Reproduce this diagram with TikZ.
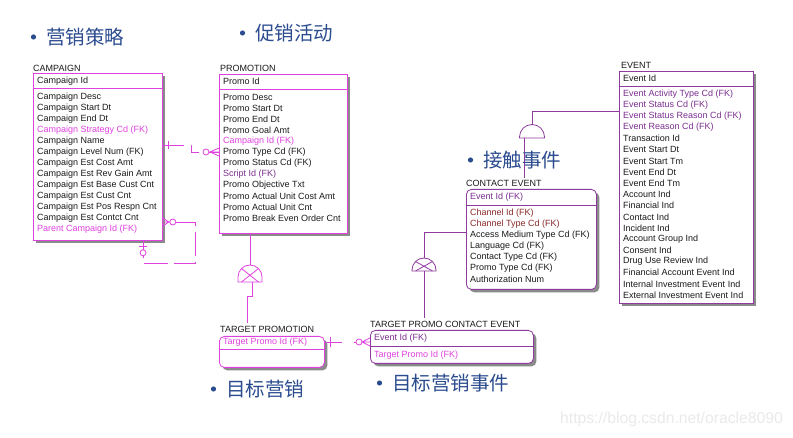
\documentclass[tikz,border=0pt]{standalone}
\usepackage{fontspec}
\setmainfont{Liberation Sans}
\newfontfamily\cjk{Noto Sans CJK SC}
\usetikzlibrary{shadows}
\definecolor{ermag}{HTML}{E042E0}
\definecolor{erpurple}{HTML}{8E3A9E}
\definecolor{erfk}{HTML}{7B2F8F}
\definecolor{erred}{HTML}{8B2A2A}
\definecolor{ertext}{HTML}{1A1A1A}
\definecolor{ershade}{HTML}{8A8A8A}
\definecolor{cnblue}{HTML}{2B4C8F}
\definecolor{wmgray}{HTML}{EAEAEA}
\tikzset{
  entity/.style={rectangle,draw=ermag,fill=white,line width=.8pt,anchor=north west,inner sep=0pt,
    drop shadow={shadow xshift=3pt,shadow yshift=-3pt,fill=ershade,opacity=1}},
  depent/.style={entity,rounded corners=5pt},
  etitle/.style={anchor=west,inner sep=0pt,font=\fontsize{9}{11}\selectfont,text=ertext},
  attr/.style={anchor=west,inner sep=0pt,font=\fontsize{9}{11}\selectfont},
  sep/.style={line width=.8pt},
  relm/.style={draw=ermag,line width=.8pt},
  relp/.style={draw=erpurple,line width=.8pt},
  optional/.style={dash pattern=on 21pt off 8pt on 14pt off 5pt},
  cn/.style={anchor=west,inner sep=0pt,font=\cjk\fontsize{19.5}{23}\selectfont,text=cnblue},
}

\begin{document}
\begin{tikzpicture}[x=1pt,y=-1pt]
  \path[fill=white,use as bounding box] (0,0) rectangle (793,438);

  % CAMPAIGN
  \node[etitle] (camp-t) at (33,68) {CAMPAIGN};
  \node[entity,minimum width=129pt,minimum height=167pt] (camp) at (33,73) {};
  \node[attr,text=ertext] (camp-pk) at (37,81) {Campaign Id};
  \draw[sep,ermag] ([yshift=-15pt]camp.north west) -- ([yshift=-15pt]camp.north east);
  \foreach \a/\c [count=\i from 0] in {Campaign Desc/ertext, Campaign Start Dt/ertext, Campaign End Dt/ertext,
      Campaign Strategy Cd (FK)/ermag, Campaign Name/ertext, Campaign Level Num (FK)/ertext,
      Campaign Est Cost Amt/ertext, Campaign Est Rev Gain Amt/ertext, Campaign Est Base Cust Cnt/ertext,
      Campaign Est Cust Cnt/ertext, Campaign Est Pos Respn Cnt/ertext, Campaign Est Contct Cnt/ertext,
      Parent Campaign Id (FK)/ermag}
    \node[attr,text=\c] (camp-\i) at (37,{97+11*\i}) {\a};

  % PROMOTION
  \node[etitle] (promo-t) at (220,68) {PROMOTION};
  \node[entity,minimum width=128pt,minimum height=159pt] (promo) at (219,74) {};
  \node[attr,text=ertext] (promo-pk) at (223,81) {Promo Id};
  \draw[sep,ermag] ([yshift=-15pt]promo.north west) -- ([yshift=-15pt]promo.north east);
  \foreach \a/\c [count=\i from 0] in {Promo Desc/ertext, Promo Start Dt/ertext, Promo End Dt/ertext,
      Promo Goal Amt/ertext, Campaign Id (FK)/ermag, Promo Type Cd (FK)/ertext, Promo Status Cd (FK)/ertext,
      Script Id (FK)/erfk, Promo Objective Txt/ertext, Promo Actual Unit Cost Amt/ertext,
      Promo Actual Unit Cnt/ertext, Promo Break Even Order Cnt/ertext}
    \node[attr,text=\c] (promo-\i) at (223,{97+11*\i}) {\a};

  % EVENT
  \node[etitle] (event-t) at (621,65) {EVENT};
  \node[entity,draw=erpurple,minimum width=134pt,minimum height=232pt] (event) at (619,71) {};
  \node[attr,text=ertext] (event-pk) at (623,78) {Event Id};
  \draw[sep,erpurple] ([yshift=-15pt]event.north west) -- ([yshift=-15pt]event.north east);
  \foreach \a/\c [count=\i from 0] in {Event Activity Type Cd (FK)/erfk, Event Status Cd (FK)/erfk,
      Event Status Reason Cd (FK)/erfk, Event Reason Cd (FK)/erfk, Transaction Id/ertext,
      Event Start Dt/ertext, Event Start Tm/ertext, Event End Dt/ertext, Event End Tm/ertext,
      Account Ind/ertext, Financial Ind/ertext, Contact Ind/ertext, Incident Ind/ertext,
      Account Group Ind/ertext, Consent Ind/ertext, Drug Use Review Ind/ertext,
      Financial Account Event Ind/ertext, Internal Investment Event Ind/ertext,
      External Investment Event Ind/ertext}
    \node[attr,text=\c] (event-\i) at (623,{94+11.17*\i}) {\a};

  % CONTACT EVENT
  \node[etitle] (ce-t) at (466,183) {CONTACT EVENT};
  \node[depent,draw=erpurple,minimum width=130pt,minimum height=100pt] (ce) at (466,189) {};
  \node[attr,text=erfk] (ce-pk) at (470,197) {Event Id (FK)};
  \draw[sep,erpurple] ([yshift=-16pt]ce.north west) -- ([yshift=-16pt]ce.north east);
  \foreach \a/\c [count=\i from 0] in {Channel Id (FK)/erred, Channel Type Cd (FK)/erred,
      Access Medium Type Cd (FK)/ertext, Language Cd (FK)/ertext, Contact Type Cd (FK)/ertext,
      Promo Type Cd (FK)/ertext, Authorization Num/ertext}
    \node[attr,text=\c] (ce-\i) at (470,{213+11*\i}) {\a};

  % TARGET PROMOTION
  \node[etitle] (tp-t) at (220,329) {TARGET PROMOTION};
  \node[depent,minimum width=105pt,minimum height=31pt] (tp) at (219,336) {};
  \node[attr,text=ermag] (tp-pk) at (223,342) {Target Promo Id (FK)};
  \draw[sep,ermag] ([yshift=-13pt]tp.north west) -- ([yshift=-13pt]tp.north east);

  % TARGET PROMO CONTACT EVENT
  \node[etitle] (tpce-t) at (370,324) {TARGET PROMO CONTACT EVENT};
  \node[depent,draw=erpurple,minimum width=163pt,minimum height=33pt] (tpce) at (370,330) {};
  \node[attr,text=erfk] (tpce-pk) at (374,338) {Event Id (FK)};
  \draw[sep,erpurple] ([yshift=-16pt]tpce.north west) -- ([yshift=-16pt]tpce.north east);
  \node[attr,text=ermag] (tpce-0) at (374,355) {Target Promo Id (FK)};

  % campaign -> promotion
  \coordinate (c1a) at ([yshift=-72pt]camp.north east);
  \coordinate (c1b) at ([yshift=-78pt]promo.north west);
  \draw[relm,optional] (c1a) -- ++(29,0) -- ++(0,7) -- (c1b);
  \draw[relm] ([xshift=6pt]c1a) ++(0,-4) -- ++(0,8);
  \draw[relm] ([xshift=-10pt]c1b) -- (c1b) ([yshift=4pt]c1b) -- ++(-9,4) -- ++(9,4);
  \draw[relm,fill=white] ([xshift=-13pt]c1b) circle (3pt);

  % parent campaign
  \coordinate (c2a) at ([yshift=-149pt]camp.north east);
  \coordinate (c2b) at ([xshift=110pt]camp.south west);
  \draw[relm,dash pattern=on 24pt off 6pt] ([xshift=13pt]c2a) -- ([xshift=33pt]c2a) |- ([yshift=-23pt]c2b) -- ([yshift=-15pt]c2b);
  \draw[relm] (c2a) -- ++(7,0) ([yshift=4pt]c2a) -- ++(6,4) -- ++(-6,4);
  \draw[relm,fill=white] ([xshift=10pt]c2a) circle (3pt);
  \draw[relm] (c2b) -- ([yshift=-9pt]c2b) ([shift={(-4pt,-6pt)}]c2b) -- ++(8,0);
  \draw[relm,fill=white] ([yshift=-12pt]c2b) circle (3pt);

  % promotion -> target promotion
  \coordinate (sub-tp) at (250,282);
  \draw[relm] (promo.south -| sub-tp) -- ([yshift=17pt]sub-tp);
  \draw[relm,fill=white] ([xshift=-12pt]sub-tp) -- ++(0,-5) arc[start angle=180,end angle=0,radius=12pt] -- ++(0,5) -- cycle;
  \draw[relm] ([shift={(-8.5pt,13.5pt)}]sub-tp) -- ([xshift=8.5pt]sub-tp) ([shift={(8.5pt,13.5pt)}]sub-tp) -- ([xshift=-8.5pt]sub-tp);
  \draw[relm] ([xshift=2pt]sub-tp) -- ++(0,14) -| ([shift={(28pt,13pt)}]tp.north west);

  % event -> contact event
  \coordinate (sub-ce) at (532,138);
  \draw[relp] ([yshift=-40pt]event.north west) -| ([yshift=13.5pt]sub-ce);
  \draw[relp,fill=white] ([xshift=-12.5pt]sub-ce) -- ++(0,-1) arc[start angle=180,end angle=0,radius=12.5pt] -- ++(0,1) -- cycle;
  \draw[relp] ([xshift=-8pt]sub-ce) -- ([shift={(58pt,11pt)}]ce.north west);

  % contact event -> target promo contact event
  \coordinate (sub-tpce) at (424,271);
  \draw[relp] ([yshift=-43pt]ce.north west) -| ([yshift=13pt]sub-tpce);
  \draw[relp,fill=white] ([xshift=-12pt]sub-tpce) -- ++(0,-1) arc[start angle=180,end angle=0,radius=12pt] -- ++(0,1) -- cycle;
  \draw[relp] ([shift={(-8.5pt,9.5pt)}]sub-tpce) -- ([xshift=8.5pt]sub-tpce) ([shift={(8.5pt,9.5pt)}]sub-tpce) -- ([xshift=-8.5pt]sub-tpce);
  \draw[relp] (sub-tpce) -- ([shift={(54pt,12pt)}]tpce.north west);

  % target promotion -> target promo contact event
  \coordinate (c6a) at ([yshift=-6pt]tp.north east);
  \coordinate (c6b) at ([yshift=-12pt]tpce.north west);
  \draw[relm,dash pattern=on 17pt off 12pt] (c6a) -- ([xshift=-14pt]c6b);
  \draw[relm] ([xshift=6pt]c6a) ++(0,-5) -- ++(0,10);
  \draw[relm] ([xshift=-8pt]c6b) -- (c6b) ([yshift=4pt]c6b) -- ++(-8,4) -- ++(8,4);
  \draw[relm,fill=white] ([xshift=-11pt]c6b) circle (3pt);

  % chinese labels
  \node[cn] (lb-camp) at (46,37) {营销策略};
  \node[cn] (lb-promo) at (255,33) {促销活动};
  \node[cn] (lb-ce) at (483,160) {接触事件};
  \node[cn] (lb-tp) at (226,389) {目标营销};
  \node[cn] (lb-tpce) at (392,383) {目标营销事件};
  \foreach \n in {lb-camp,lb-promo,lb-ce,lb-tp,lb-tpce}
    \fill[cnblue] ([xshift=-12.5pt]\n.west) circle (2.6pt);

  \node[anchor=west,inner sep=0pt,font=\fontsize{15.7}{18}\selectfont,text=wmgray] (wm) at (560,419) {https://blog.csdn.net/oracle8090};
\end{tikzpicture}
\end{document}
